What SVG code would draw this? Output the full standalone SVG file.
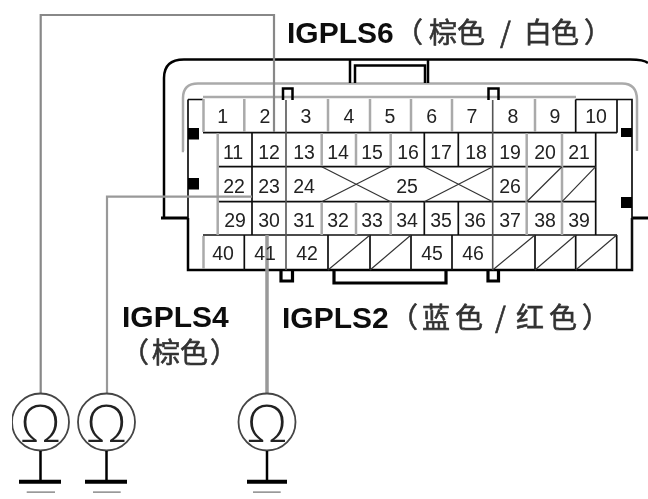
<svg xmlns="http://www.w3.org/2000/svg" width="648" height="499" viewBox="0 0 648 499">
<style>
.k{fill:none;stroke:#111;stroke-width:1.7}
.t{fill:none;stroke:#000;stroke-width:3.200}
.m{fill:none;stroke:#000;stroke-width:2.500}
.d{fill:none;stroke:#555;stroke-width:1.600}
.g{fill:none;stroke:#aaa;stroke-width:2.500}
.w{fill:none;stroke:#999;stroke-width:2.500}
.s{fill:none;stroke:#333;stroke-width:1.200}
.n{font:19.500px "Liberation Sans",sans-serif;fill:#222;text-anchor:middle}
.b{font:bold 30px "Liberation Sans",sans-serif;fill:#111}
.c{font:28px "Noto Sans CJK SC","Liberation Sans",sans-serif;fill:#333;stroke:#333;stroke-width:.6}
.o{font:300 52px "Open Sans","Liberation Sans",sans-serif;fill:#222;text-anchor:middle}
.r{fill:#fff;stroke:#444;stroke-width:1.800}
</style>
<defs><filter id="soft" x="0" y="0" width="100%" height="100%"><feGaussianBlur stdDeviation="0.45"/></filter></defs>
<rect width="648" height="499" fill="#fff"/>
<g filter="url(#soft)">
<g id="housing">
<path class="m" d="M188 218V270H632V218M164 218V78Q164 59.500 184 59.500H630Q644 59.500 648 63"/>
<path class="t" d="M161 218H188M632 218H648"/>
<path class="g" d="M184 151H183V98Q183 83.500 198 83.500H622Q637 83.500 637 100V151"/>
<path class="m" d="M350 83V59.500M428 83V59.500"/>
<path class="m" d="M355 83V65.500H425V83"/>
<path class="k" d="M188 99.500H203M575.700 99.500H632V270"/>
<path class="k" d="M188 99.500V218"/>
<path class="g" d="M203 97H576"/>
<path class="m" d="M283 100V88.500H292.500V100M488.500 100V88.500H498.500V100"/>
<path class="t" d="M281 270V281H292.500V270M488 270V281H498.500V270"/>
<path class="t" d="M334 270V283H446V270"/>
<rect x="188" y="128" width="11" height="11.500" fill="#000"/>
<rect x="188" y="178" width="11" height="11.500" fill="#000"/>
<rect x="621" y="128" width="11" height="9" fill="#000"/>
<rect x="621" y="197" width="11" height="11" fill="#000"/>
</g>
<g id="connector-grid">
<path class="k" d="M203 132.700H617M218 166.700H596M218 201.700H596M203 235H617"/>
<path class="k" d="M617 99.500V132.700M575.700 99.500V132.700M252 132.700V235M458.300 132.700V166.700M458.300 201.700V235M595.700 132.700V235M424.300 132.700V166.700M424.300 201.700V235"/>
<path class="k" d="M244.300 235V270M328 235V270M370 235V270M411 235V270M452 235V270M535 235V270M575.700 235V270M616.700 235V270"/>
<path class="d" d="M286 100V270M492.700 100V270"/>
<path class="g" d="M203.500 99V132M244.300 99V132M328 99V132M370 99V132M411 99V132M452 99V132M535 99V132M217.700 133V235M321.700 133V166M356 133V166M390.700 133V166M526.700 133V235M562 133V235M321.700 202V235M356 202V235M390.700 202V235M203.500 236V269"/>
<path class="s" d="M321.700 166.700L390.700 201.700M321.700 201.700L390.700 166.700M424.300 166.700L492.700 201.700M424.300 201.700L492.700 166.700M526.700 201.700L562 166.700M562 201.700L595.700 166.700M328 270L370 235M370 270L411 235M492.700 270L535 235M535 270L575.700 235M575.700 270L616.700 235"/>
</g>
<g id="connectors">
<path class="w" style="stroke:#888;stroke-width:2.200" d="M40.700 393V15H274V132"/>
<path class="w" style="stroke-width:2.200" d="M107 393V196.700H252"/>
<path class="w" style="stroke-width:3.500" d="M267 393V235"/>
</g>
<g id="pin-numbers">
<text class="n" x="222.700" y="123">1</text><text class="n" x="265" y="123">2</text><text class="n" x="306" y="123">3</text><text class="n" x="349" y="123">4</text><text class="n" x="390" y="123">5</text><text class="n" x="431.700" y="123">6</text><text class="n" x="472" y="123">7</text><text class="n" x="513" y="123">8</text><text class="n" x="555" y="123">9</text><text class="n" x="596" y="123">10</text>
<text class="n" x="233" y="159">11</text><text class="n" x="269" y="159">12</text><text class="n" x="304" y="159">13</text><text class="n" x="338" y="159">14</text><text class="n" x="372" y="159">15</text><text class="n" x="408" y="159">16</text><text class="n" x="441" y="159">17</text><text class="n" x="476" y="159">18</text><text class="n" x="510" y="159">19</text><text class="n" x="545" y="159">20</text><text class="n" x="579" y="159">21</text>
<text class="n" x="234" y="192.700">22</text><text class="n" x="269" y="192.700">23</text><text class="n" x="304" y="192.700">24</text><text class="n" x="407" y="192.700">25</text><text class="n" x="510" y="192.700">26</text>
<text class="n" x="235" y="227">29</text><text class="n" x="269" y="227">30</text><text class="n" x="304" y="227">31</text><text class="n" x="338" y="227">32</text><text class="n" x="372" y="227">33</text><text class="n" x="407" y="227">34</text><text class="n" x="441" y="227">35</text><text class="n" x="475" y="227">36</text><text class="n" x="510" y="227">37</text><text class="n" x="545" y="227">38</text><text class="n" x="579" y="227">39</text>
<text class="n" x="223" y="260">40</text><text class="n" x="265" y="260">41</text><text class="n" x="307" y="260">42</text><text class="n" x="432" y="260">45</text><text class="n" x="473" y="260">46</text>
</g>
<g id="label-igpls6"><text class="b" x="287" y="43">IGPLS6</text><text class="c" y="43" x="395 429 457 500 524 551 584">（棕色/白色）</text></g>
<g id="label-igpls4"><text class="b" x="122" y="327">IGPLS4</text><text class="c" y="363" x="121 152 180 210">（棕色）</text></g>
<g id="label-igpls2"><text class="b" x="282" y="327.500">IGPLS2</text><text class="c" y="328" x="390 422 455 495 516 549 582">（蓝色/红色）</text></g>
<g id="meter-1"><circle class="r" cx="40.500" cy="422" r="28.500"/><text class="o" x="40.500" y="441.500">Ω</text><path class="m" d="M40.500 451V481"/><path d="M19 481.700H61" stroke="#000" stroke-width="4"/><path d="M26.700 492.300H55" stroke="#999" stroke-width="2"/></g>
<g id="meter-2"><circle class="r" cx="106.500" cy="422" r="28.500"/><text class="o" x="106.500" y="441.500">Ω</text><path class="m" d="M106.500 451V481"/><path d="M85 481.700H127" stroke="#000" stroke-width="4"/><path d="M93 492.300H120.700" stroke="#999" stroke-width="2"/></g>
<g id="meter-3"><circle class="r" cx="267" cy="422" r="28.500"/><text class="o" x="267" y="441.500">Ω</text><path class="m" d="M267 451V481"/><path d="M247 481.700H287" stroke="#000" stroke-width="4"/><path d="M253 492.300H280.700" stroke="#999" stroke-width="2"/></g>
</g>
</svg>
